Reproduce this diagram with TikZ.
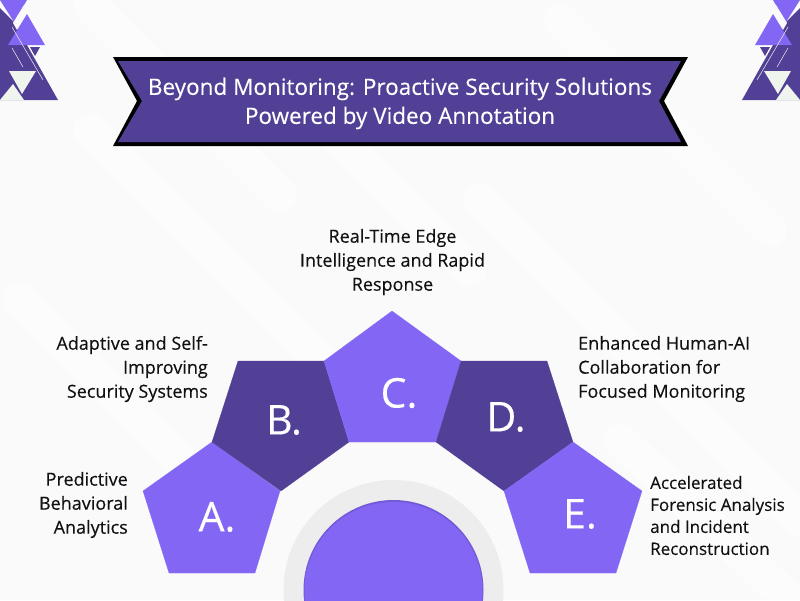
\documentclass[tikz,border=0pt]{standalone}
\usepackage{fontspec}
\setmainfont[FakeBold=0.25]{Open Sans}
\definecolor{bgc}{HTML}{FAFAFA}
\definecolor{dark}{HTML}{523F96}
\definecolor{lite}{HTML}{8466F5}
\definecolor{pale}{HTML}{EFF5EC}
\definecolor{ring}{HTML}{EDEDED}
\definecolor{txt}{HTML}{111111}
\tikzset{
 penta/.style={fill=#1,draw=#1,line width=.2pt},
 letter/.style={text=white,font=\fontsize{41}{41}\selectfont,inner sep=0pt,anchor=center},
 lab/.style={text=txt,font=\fontsize{18}{24}\selectfont,inner sep=0pt},
 streak/.style={white,line width=34pt,line cap=round,opacity=.55},
}
\begin{document}
\begin{tikzpicture}[x=1pt,y=-1pt]
\useasboundingbox (0,0) rectangle (800,600);
\fill[bgc] (0,0) rectangle (800,600);
% background streaks
\draw[streak] (90,5) -- (280,195);
\draw[streak] (330,130) -- (470,270);
\draw[streak] (480,200) -- (800,520);
\draw[streak] (560,20) -- (770,230);
\draw[streak] (20,300) -- (200,480);
\draw[streak] (90,130) -- (320,360);
\draw[streak] (620,440) -- (790,600);
% corner art
\def\corner{
 \fill[dark] (0,8) -- (14,22) -- (58,100) -- (0,100) -- cycle;
 \fill[lite] (0,0) -- (27,0) -- (14,22) -- cycle;
 \fill[bgc] (24,5) -- (28,12) -- (17,30) -- (13,23) -- cycle;
 \fill[lite] (27,14) -- (45,45) -- (8,45) -- cycle;
 \fill[dark] (30,47) -- (40,47) -- (35,56) -- cycle;
 \fill[pale] (9,71) -- (36,71) -- (22,94) -- cycle;
 \fill[pale] (13,84) -- (24,100) -- (0,100) -- cycle;
 \draw[pale,line width=.5pt] (12,27) -- (43,80);
 \draw[pale,line width=.5pt] (12,48) -- (23,67);
}
\corner
\begin{scope}[xshift=800pt,x=-1pt]\corner\end{scope}
% banner
\coordinate (b1) at (113,57); \coordinate (b2) at (688,57);
\coordinate (b3) at (664,101); \coordinate (b4) at (688,146);
\coordinate (b5) at (113,146); \coordinate (b6) at (137,101);
\fill[black] (b1) -- (b2) -- (b3) -- (b4) -- (b5) -- (b6) -- cycle;
\fill[dark] (118,61) -- (681,61) -- (659,101) -- (681,142) -- (118,142) -- (142,101) -- cycle;
\node[text=white,font=\fontsize{22.5}{29}\selectfont,align=center,inner sep=0pt] (title) at (400,103.5)
 {Beyond Monitoring: Proactive Security Solutions\\Powered by Video Annotation};
% central circle
\fill[ring] (393.5,590) circle (110);
\fill[lite!88!black] (393.5,590) circle (90);
\fill[lite] (393.5,591) circle (89);
% pentagons
\fill[penta=lite] (212,442) -- (280,491) -- (255,573) -- (169,573) -- (143,491) -- cycle;
\fill[penta=dark] (238,361) -- (324,361) -- (349,442) -- (281,491) -- (212,442) -- cycle;
\fill[penta=lite] (392,311) -- (461,361) -- (436,442) -- (349,442) -- (324,361) -- cycle;
\fill[penta=dark] (461,361) -- (547,361) -- (573,442) -- (504,491) -- (436,442) -- cycle;
\fill[penta=lite] (573,442) -- (642,491) -- (616,573) -- (530,573) -- (504,491) -- cycle;
\node[letter] (A) at (217,517) {A.};
\node[letter] (B) at (284,420) {B.};
\node[letter] (C) at (399,393) {C.};
\node[letter] (D) at (506,417) {D.};
\node[letter] (E) at (580,514) {E.};
% labels
\node[lab,align=center] (lc) at (392.5,262) {Real-Time Edge\\Intelligence and Rapid\\Response};
\node[lab,align=right,anchor=east] (lb) at (208,369) {Adaptive and Self-\\Improving\\Security Systems};
\node[lab,align=right,anchor=east] (la) at (128,505) {Predictive\\Behavioral\\Analytics};
\node[lab,align=left,anchor=west] (ld) at (578,369) {Enhanced Human-AI\\Collaboration for\\Focused Monitoring};
\node[lab,align=left,anchor=west,font=\fontsize{17}{22}\selectfont] (le) at (650,515.5) {Accelerated\\Forensic Analysis\\and Incident\\Reconstruction};
\end{tikzpicture}
\end{document}
